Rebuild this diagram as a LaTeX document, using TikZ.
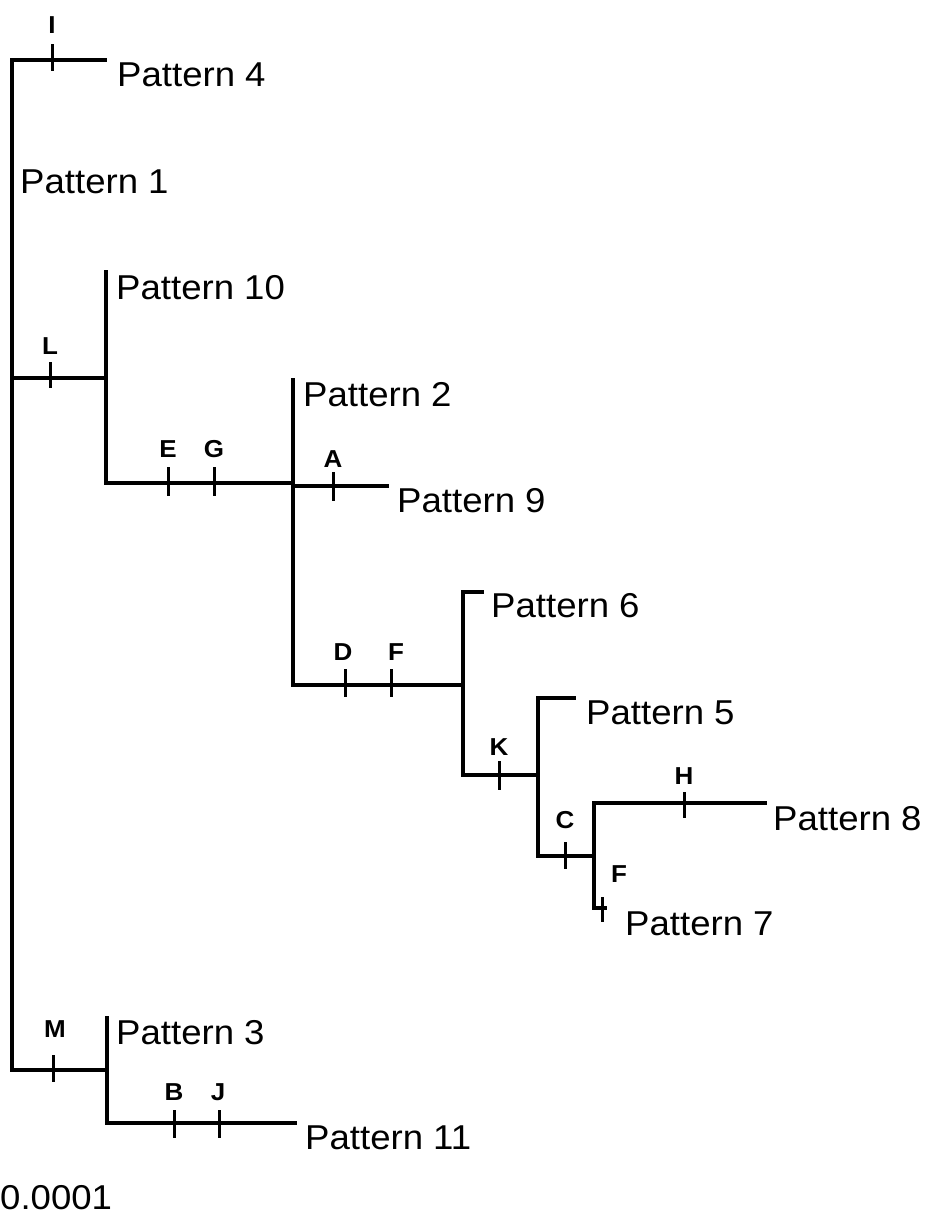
\documentclass[tikz,border=0pt]{standalone}
\usepackage{fontspec}
\setmainfont[FakeStretch=1.06]{Liberation Sans}
\begin{document}
\begin{tikzpicture}[x=1pt,y=-1pt,
  br/.style={line width=3.4pt,line cap=rect},
  tk/.style={line width=3pt},
  pat/.style={anchor=base west,inner sep=0pt,font=\fontsize{34.5}{38}\selectfont},
  lab/.style={anchor=base,inner sep=0pt,font=\fontsize{24.5}{27}\selectfont\bfseries}]
\useasboundingbox (0,0) rectangle (925,1224);
% branch points
\coordinate (r0) at (12,60);
\coordinate (r1) at (12,1070);
\coordinate (p4e) at (105,60);
\coordinate (rL) at (12,378);
\coordinate (nL) at (106,378);
\coordinate (nLt) at (106,272);
\coordinate (nLb) at (106,483);
\coordinate (nEG) at (293,483);
\coordinate (n2t) at (293,380);
\coordinate (n2b) at (293,685);
\coordinate (n9a) at (293,486);
\coordinate (n9e) at (387,486);
\coordinate (nDF) at (463,685);
\coordinate (n6t) at (463,592);
\coordinate (n6e) at (482,592);
\coordinate (n6b) at (463,775);
\coordinate (nK) at (538,775);
\coordinate (n5t) at (538,698);
\coordinate (n5e) at (574,698);
\coordinate (n5b) at (538,856);
\coordinate (nC) at (594,856);
\coordinate (n8t) at (594,803);
\coordinate (n8e) at (765,803);
\coordinate (n7b) at (594,908);
\coordinate (n7e) at (605,908);
\coordinate (nM) at (107,1070);
\coordinate (n3t) at (107,1018);
\coordinate (n3b) at (107,1123);
\coordinate (n11e) at (295,1123);
% branches
\draw[br] (p4e) -- (r0) -- (r1) -- (nM);
\draw[br] (rL) -- (nL);
\draw[br] (nLt) -- (nLb) -- (nEG);
\draw[br] (n2t) -- (n2b) -- (nDF);
\draw[br] (n9a) -- (n9e);
\draw[br] (n6e) -- (n6t) -- (n6b) -- (nK);
\draw[br] (n5e) -- (n5t) -- (n5b) -- (nC);
\draw[br] (n8e) -- (n8t) -- (n7b) -- (n7e);
\draw[br] (n3t) -- (n3b) -- (n11e);
% ticks
\foreach \nm/\x/\ya/\yb in {tI/52/44/71, tL/50/362/388, tE/168/467/496, tG/214/467/496,
  tA/333/472/501, tD/345/669/697, tF/391/669/697, tK/499/761/790, tC/565/842/869,
  tH/684/792/818, tF2/602/897/922, tM/53/1055/1082, tB/174/1110/1138, tJ/219/1110/1138}
  \draw[tk] (\x,\ya) coordinate (\nm a) -- (\x,\yb) coordinate (\nm b);
% tick labels
\node[lab] (lI) at (52,33) {I};
\node[lab] (lL) at (50,354) {L};
\node[lab] (lE) at (168,457) {E};
\node[lab] (lG) at (214,457) {G};
\node[lab] (lA) at (333,467) {A};
\node[lab] (lD) at (343,660) {D};
\node[lab] (lF) at (396,660) {F};
\node[lab] (lK) at (499,755) {K};
\node[lab] (lC) at (565,828) {C};
\node[lab] (lH) at (684,784) {H};
\node[lab] (lF2) at (619,882) {F};
\node[lab] (lM) at (55,1037) {M};
\node[lab] (lB) at (174,1100) {B};
\node[lab] (lJ) at (218,1100) {J};
% leaf labels
\node[pat] (P4) at (117,86) {Pattern 4};
\node[pat] (P1) at (20,193) {Pattern 1};
\node[pat] (P10) at (116,299) {Pattern 10};
\node[pat] (P2) at (303,406) {Pattern 2};
\node[pat] (P9) at (397,512) {Pattern 9};
\node[pat] (P6) at (491,617) {Pattern 6};
\node[pat] (P5) at (586,724) {Pattern 5};
\node[pat] (P8) at (773,830) {Pattern 8};
\node[pat] (P7) at (625,935) {Pattern 7};
\node[pat] (P3) at (116,1044) {Pattern 3};
\node[pat] (P11) at (305,1149) {Pattern 11};
\node[pat] (sc) at (0,1209) {0.0001};
\end{tikzpicture}
\end{document}
